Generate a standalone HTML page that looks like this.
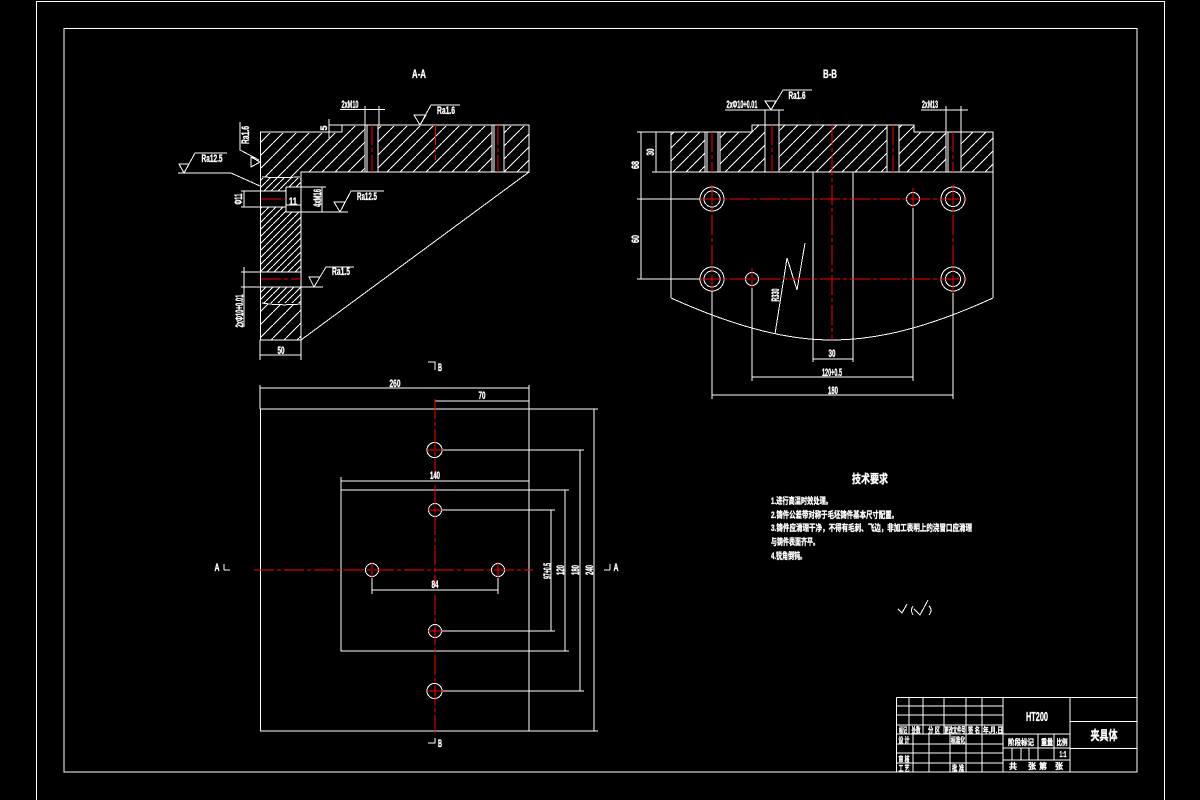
<!DOCTYPE html>
<html><head><meta charset="utf-8"><style>
html,body{margin:0;padding:0;background:#000;width:1200px;height:800px;overflow:hidden}
svg{display:block;shape-rendering:crispEdges}
.w,.h{stroke:#fff;stroke-width:1;fill:none}
.r{stroke:#f00;stroke-width:1;fill:none;stroke-dasharray:20 3 4 3}
text{fill:#fff;font-family:"Liberation Sans","Noto Sans CJK SC",sans-serif;font-weight:bold;font-size:11px;text-anchor:middle;stroke:#fff;stroke-width:.35}
.s{text-anchor:start;font-size:9px}
.t text{font-size:8px}
</style></head><body>
<svg width="1200" height="800" viewBox="0 0 1200 800" xmlns="http://www.w3.org/2000/svg">
<defs>
<pattern id="sp" width="13" height="13" patternUnits="userSpaceOnUse"><path d="M-1 14L14 -1" stroke="#fff" stroke-width="1"/></pattern>
<pattern id="dn" width="7" height="7" patternUnits="userSpaceOnUse"><path d="M-1 8L8 -1" stroke="#fff" stroke-width="1"/></pattern>
</defs>
<rect width="1200" height="800" fill="#000"/>
<path class="h" d="M36.500 800V1.500H1164.500V800"/>
<rect class="h" x="64" y="28.500" width="1073" height="743.500"/>

<!-- A-A hatching -->
<path fill="url(#sp)" d="M261 133H342V126H365V172H301V177H261Z"/>
<path fill="url(#sp)" d="M378 126H492V172H378ZM504 126H529V172H504Z"/>
<path fill="url(#dn)" d="M261 178H286V191H261ZM286 178H301V187H286ZM261 207H286V212H301V272H261ZM261 287H301V303H261Z"/>
<path fill="url(#sp)" d="M261 304H301V340H261Z"/>
<!-- A-A outline -->
<path class="h" d="M342 125H529V172H301V340H260.500V132H342Z"/>
<path class="w" d="M529 172L301 340"/>
<path class="h" d="M365 125V172M367 125V172M378 125V172M492 125V172M494 125V172M504 125V172"/>
<path class="w" d="M365 125V106M379 125V106M340 109.500H385"/>
<path class="w" d="M329 119V138M329 125H342"/>
<path class="h" d="M286 187H326M286 187V212H348M301 172V212M241 191H286M241 207H286M261 272H301M261 287H301"/>
<path class="w" d="M322 187V212M244 191V207M286 205H301M262 177Q280 178 300 177M300 179H301M262 303Q280 306 301 304"/>
<path class="w" d="M241 272H301M241 287H323M244 267V327M260 340V360M301 340V360M260 355H301"/>
<path class="r" d="M372 125V172M498 125V172M435.500 125V160"/>
<path class="r" d="M261 199H286M261 279H301"/>
<text x="419" y="78" style="font-size:12px" textLength="14" lengthAdjust="spacingAndGlyphs">A-A</text>
<text x="350" y="108" textLength="17" lengthAdjust="spacingAndGlyphs">2xM10</text>
<text x="327" y="128" transform="rotate(-90 327 128)" style="font-size:9px">5</text>
<text x="446" y="114" textLength="18" lengthAdjust="spacingAndGlyphs">Ra1.6</text>
<text x="249" y="135" transform="rotate(-90 249 135)" textLength="18" lengthAdjust="spacingAndGlyphs">Ra1.6</text>
<text x="212" y="162" textLength="21" lengthAdjust="spacingAndGlyphs">Ra12.5</text>
<text x="367" y="200" textLength="20" lengthAdjust="spacingAndGlyphs">Ra12.5</text>
<text x="341" y="275" textLength="18" lengthAdjust="spacingAndGlyphs">Ra1.5</text>
<text x="293" y="205" textLength="8" lengthAdjust="spacingAndGlyphs">11</text>
<text x="242" y="199" transform="rotate(-90 242 199)" textLength="11" lengthAdjust="spacingAndGlyphs">Φ11</text>
<text x="321" y="198" transform="rotate(-90 321 198)" textLength="18" lengthAdjust="spacingAndGlyphs">4xM16</text>
<text x="243" y="311" transform="rotate(-90 243 311)" textLength="33" lengthAdjust="spacingAndGlyphs">2xΦ10+0.01</text>
<text x="281" y="354" textLength="7" lengthAdjust="spacingAndGlyphs">50</text>
<!-- roughness symbols -->
<path class="w" d="M414 115H426L420 125ZM420 125L431 105H460M178 173H231L260 186M179 164H189L184 173ZM184 173L195 153H227"/>
<path class="w" d="M251 157V167L260 162ZM240 122V150L259 160M334 202H345L340 212ZM340 212L351 191H384"/>
<path class="w" d="M309 277H320L314 287ZM314 287L326 267H354"/>

<!-- B-B hatching -->
<path fill="url(#sp)" d="M671 132H705V172H671ZM720 132H752V125H765V172H720ZM779 125H887V172H779ZM899 125H914V132H946V172H899ZM961 132H993V172H961Z"/>
<!-- B-B outline -->
<path class="h" d="M637 132H752V125H914V132H993V172H652M993 172V298M671 132V298"/>
<path class="w" d="M671 298C740 329 790 340 832 340C875 340 925 329 993 298"/>
<path class="h" d="M705 132V172M707 132V172M720 132V172M718 132V172M765 125V172M779 125V172M887 125V172M899 125V172M946 132V172M948 132V172M961 132V172"/>
<path class="h" d="M656 132V172M813 172V362M853 172V362"/>
<path class="w" d="M641 132V279M637 199H700M637 279H700M712 291V399M953 291V399M752 286V381M913 206V381M813 359H853M752 377H913M712 395H953"/>
<path class="w" d="M725 110H784M765 110V125M779 110V125M921 110H968M946 106V132M961 106V132"/>
<path class="w" d="M775 334L787 258L797 290L805 243"/>
<circle class="w" cx="712" cy="199" r="12"/><circle class="w" cx="712" cy="199" r="8"/>
<circle class="w" cx="953" cy="199" r="12"/><circle class="w" cx="953" cy="199" r="7.500"/>
<circle class="w" cx="712" cy="279" r="12"/><circle class="w" cx="712" cy="279" r="8"/>
<circle class="w" cx="953" cy="279" r="12"/><circle class="w" cx="953" cy="279" r="7.500"/>
<circle class="w" cx="913" cy="199" r="6.500"/><circle class="w" cx="752" cy="279" r="6.500"/>
<path class="r" d="M700 199H968M700 279H968M712 132V172M712 185V291M772 125V172M893 125V172M953 132V172M953 185V293M913 188V208M752 268V290M832 125V340"/>
<text x="830" y="78" style="font-size:12px" textLength="14" lengthAdjust="spacingAndGlyphs">B-B</text>
<text x="742" y="108" textLength="31" lengthAdjust="spacingAndGlyphs">2xΦ10+0.01</text>
<text x="797" y="99" textLength="17" lengthAdjust="spacingAndGlyphs">Ra1.6</text>
<text x="930" y="108" textLength="16" lengthAdjust="spacingAndGlyphs">2xM13</text>
<path class="w" d="M765 101H776L771 110ZM771 110L783 90H812"/>
<text x="654" y="152" transform="rotate(-90 654 152)" textLength="7" lengthAdjust="spacingAndGlyphs">30</text>
<text x="639" y="165" transform="rotate(-90 639 165)" textLength="8" lengthAdjust="spacingAndGlyphs">68</text>
<text x="639" y="239" transform="rotate(-90 639 239)" textLength="8" lengthAdjust="spacingAndGlyphs">60</text>
<text x="779" y="295" transform="rotate(-90 779 295)" textLength="13" lengthAdjust="spacingAndGlyphs">R330</text>
<text x="832" y="357" textLength="7" lengthAdjust="spacingAndGlyphs">30</text>
<text x="832" y="376" textLength="20" lengthAdjust="spacingAndGlyphs">120+0.5</text>
<text x="833" y="394" textLength="10" lengthAdjust="spacingAndGlyphs">180</text>

<!-- Plan view -->
<rect class="h" x="260.500" y="409" width="268.500" height="322"/>
<rect class="h" x="341" y="490" width="188" height="161"/>
<path class="w" d="M529 409H598M529 731H598M594 409V731M443 450H584M443 691H584M580 450V691M529 490H569M529 651H569M565 490V651M442 510H555M442 631H555M551 510V631"/>
<path class="w" d="M260 385V409M529 385V409M260 388H529M435 401H529M341 477V490M341 481H529M372 570V594M498 570V594M372 590H498"/>
<circle class="w" cx="434.500" cy="450" r="7.500"/><circle class="w" cx="434.500" cy="691" r="7.500"/>
<circle class="w" cx="435" cy="510" r="6.500"/><circle class="w" cx="435" cy="631" r="6.500"/>
<circle class="w" cx="372" cy="570" r="6.500"/><circle class="w" cx="498" cy="570" r="6.500"/>
<path class="r" d="M254 570H533M435 399V476M435 485V586M435 595V733"/>
<path class="r" style="stroke-dasharray:none" d="M427 450H443M427 691H443M428 510H442M428 631H442M372 562V578M498 562V578"/>
<path class="w" d="M224 570H230M224 564V570M604 570H610M610 564V570M428 362H435V370M428 743H435V738"/>
<text x="217" y="571" textLength="5" lengthAdjust="spacingAndGlyphs">A</text>
<text x="616" y="571" textLength="5" lengthAdjust="spacingAndGlyphs">A</text>
<text x="440" y="371" textLength="4" lengthAdjust="spacingAndGlyphs">B</text>
<text x="440" y="747" textLength="4" lengthAdjust="spacingAndGlyphs">B</text>
<text x="395" y="387" textLength="11" lengthAdjust="spacingAndGlyphs">260</text>
<text x="482" y="399" textLength="7" lengthAdjust="spacingAndGlyphs">70</text>
<text x="435" y="479" textLength="10" lengthAdjust="spacingAndGlyphs">140</text>
<text x="435" y="588" textLength="7" lengthAdjust="spacingAndGlyphs">84</text>
<text x="593" y="570" transform="rotate(-90 593 570)" textLength="10" lengthAdjust="spacingAndGlyphs">240</text>
<text x="579" y="570" transform="rotate(-90 579 570)" textLength="10" lengthAdjust="spacingAndGlyphs">180</text>
<text x="564" y="570" transform="rotate(-90 564 570)" textLength="10" lengthAdjust="spacingAndGlyphs">120</text>
<text x="551" y="571" transform="rotate(-90 551 571)" textLength="16" lengthAdjust="spacingAndGlyphs">97+0.5</text>

<!-- Technical notes -->
<text x="870" y="483" style="font-size:12px" textLength="36" lengthAdjust="spacingAndGlyphs">技术要求</text>
<text x="771" y="504" class="s" textLength="61" lengthAdjust="spacingAndGlyphs">1.进行高温时效处理。</text>
<text x="771" y="518" class="s" textLength="127" lengthAdjust="spacingAndGlyphs">2.铸件公差带对称于毛坯铸件基本尺寸配置。</text>
<text x="771" y="531" class="s" textLength="201" lengthAdjust="spacingAndGlyphs">3.铸件应清理干净，不得有毛刺、飞边，非加工表明上的浇冒口应清理</text>
<text x="771" y="545" class="s" textLength="48" lengthAdjust="spacingAndGlyphs">与铸件表面齐平。</text>
<text x="771" y="559" class="s" textLength="35" lengthAdjust="spacingAndGlyphs">4.锐角倒钝。</text>
<path class="w" d="M898 609L902 613L907 604M914 609L920 615L928 600M913 606Q910 610 913 615M929 606Q933 610 929 615"/>

<!-- Title block -->
<path class="h" d="M896.500 697.500H1137M896.500 697.500V772M896.500 772H1137M1003 697.500V772M1070 697.500V772M1070 721.500H1137M1003 734H1070M1070 748.500H1137M1003 748H1070M1003 760H1070"/>
<path class="w" d="M897 706H1003M897 715H1003M897 725H1003M897 734H1003M897 744H1003M897 753H1003M897 763H1003"/>
<path class="w" d="M909 697V734M923 697V734M944 697V734M966 697V772M982 697V772M913 734V772M929 734V772M950 734V772M1038 734V760M1054 734V760M1012 748V760M1021 748V760M1029 748V760"/>
<g class="t">
<text x="903" y="733" textLength="8" lengthAdjust="spacingAndGlyphs">标记</text>
<text x="916" y="733" textLength="9" lengthAdjust="spacingAndGlyphs">处数</text>
<text x="934" y="733" textLength="12" lengthAdjust="spacingAndGlyphs">分 区</text>
<text x="955" y="733" textLength="21" lengthAdjust="spacingAndGlyphs">更改文件号</text>
<text x="974" y="733" textLength="12" lengthAdjust="spacingAndGlyphs">签 名</text>
<text x="993" y="733" textLength="20" lengthAdjust="spacingAndGlyphs">年.月.日</text>
<text x="904" y="743" textLength="11" lengthAdjust="spacingAndGlyphs">设 计</text>
<text x="904" y="762" textLength="11" lengthAdjust="spacingAndGlyphs">审 核</text>
<text x="904" y="771" textLength="11" lengthAdjust="spacingAndGlyphs">工 艺</text>
<text x="958" y="743" textLength="14" lengthAdjust="spacingAndGlyphs">标准化</text>
<text x="958" y="771" textLength="12" lengthAdjust="spacingAndGlyphs">批 准</text>
<text x="1021" y="745" textLength="26" lengthAdjust="spacingAndGlyphs">阶段标记</text>
<text x="1047" y="745" textLength="12" lengthAdjust="spacingAndGlyphs">重量</text>
<text x="1062" y="745" textLength="11" lengthAdjust="spacingAndGlyphs">比例</text>
<text x="1063" y="757" textLength="7" lengthAdjust="spacingAndGlyphs">1:1</text>
<text x="1013" y="769">共</text><text x="1032" y="769">张</text><text x="1043" y="769">第</text><text x="1059" y="769">张</text>
</g>
<text x="1037" y="721" style="font-size:13px" textLength="22" lengthAdjust="spacingAndGlyphs">HT200</text>
<text x="1104" y="740" style="font-size:13px" textLength="27" lengthAdjust="spacingAndGlyphs">夹具体</text>
</svg>
</body></html>
